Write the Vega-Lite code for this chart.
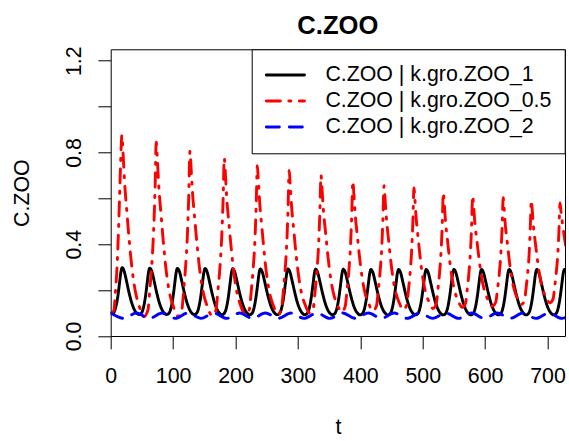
{
"$schema": "https://vega.github.io/schema/vega-lite/v6.json",
"width": 454.3,
"height": 286.7,
"autosize": {"type": "none"},
"padding": {"left": 110.7, "top": 49.3, "right": 4, "bottom": 105},
"background": "white",
"title": {"text": "C.ZOO", "fontSize": 25.6, "fontWeight": "bold", "font": "Liberation Sans", "color": "black", "anchor": "middle", "frame": "group", "baseline": "alphabetic", "offset": 13, "dy": 27},
"config": {
  "view": {"stroke": "black", "strokeWidth": 1},
  "font": "Liberation Sans",
  "axis": {"grid": false, "domain": false, "tickColor": "black", "tickSize": 12.8, "tickWidth": 1, "labelFont": "Liberation Sans", "labelFontSize": 21.33, "labelColor": "black", "titleFont": "Liberation Sans", "titleFontSize": 21.33, "titleFontWeight": "normal", "titleColor": "black", "labelOverlap": false, "labelFlush": false},
  "legend": {"orient": "top-right", "offset": 0, "padding": 12.7, "strokeColor": "black", "strokeWidth": 1, "fillColor": "white", "cornerRadius": 0, "symbolType": "stroke", "symbolSize": 1452, "symbolStrokeWidth": 2.9, "labelFont": "Liberation Sans", "labelFontSize": 21.33, "labelColor": "black", "labelLimit": 500, "labelOffset": 19, "clipHeight": 26, "rowPadding": 0, "labelBaseline": "middle"}
},
"data": {"values": [
{"s":"ZOO_1","t":0,"v":0.1},{"s":"ZOO_1","t":4,"v":0.1},{"s":"ZOO_1","t":8,"v":0.125},{"s":"ZOO_1","t":11.3,"v":0.17},{"s":"ZOO_1","t":14.3,"v":0.235},{"s":"ZOO_1","t":16.3,"v":0.278},{"s":"ZOO_1","t":18.3,"v":0.298},
{"s":"ZOO_1","t":21.3,"v":0.285},{"s":"ZOO_1","t":25.3,"v":0.24},{"s":"ZOO_1","t":29.3,"v":0.19},{"s":"ZOO_1","t":33.3,"v":0.148},{"s":"ZOO_1","t":37.3,"v":0.118},{"s":"ZOO_1","t":41.3,"v":0.1},{"s":"ZOO_1","t":45.3,"v":0.094},{"s":"ZOO_1","t":49.3,"v":0.1},{"s":"ZOO_1","t":52.6,"v":0.125},{"s":"ZOO_1","t":55.6,"v":0.17},{"s":"ZOO_1","t":58.6,"v":0.235},{"s":"ZOO_1","t":60.6,"v":0.278},{"s":"ZOO_1","t":62.6,"v":0.296},
{"s":"ZOO_1","t":65.6,"v":0.284},{"s":"ZOO_1","t":69.6,"v":0.24},{"s":"ZOO_1","t":73.6,"v":0.19},{"s":"ZOO_1","t":77.6,"v":0.148},{"s":"ZOO_1","t":81.6,"v":0.118},{"s":"ZOO_1","t":85.6,"v":0.1},{"s":"ZOO_1","t":89.6,"v":0.094},{"s":"ZOO_1","t":93.6,"v":0.1},{"s":"ZOO_1","t":96.9,"v":0.125},{"s":"ZOO_1","t":99.9,"v":0.17},{"s":"ZOO_1","t":102.9,"v":0.235},{"s":"ZOO_1","t":104.9,"v":0.277},{"s":"ZOO_1","t":106.9,"v":0.295},
{"s":"ZOO_1","t":109.9,"v":0.283},{"s":"ZOO_1","t":113.9,"v":0.239},{"s":"ZOO_1","t":117.9,"v":0.19},{"s":"ZOO_1","t":121.9,"v":0.148},{"s":"ZOO_1","t":125.9,"v":0.118},{"s":"ZOO_1","t":129.9,"v":0.1},{"s":"ZOO_1","t":133.9,"v":0.094},{"s":"ZOO_1","t":137.9,"v":0.1},{"s":"ZOO_1","t":141.2,"v":0.125},{"s":"ZOO_1","t":144.2,"v":0.17},{"s":"ZOO_1","t":147.2,"v":0.234},{"s":"ZOO_1","t":149.2,"v":0.276},{"s":"ZOO_1","t":151.2,"v":0.294},
{"s":"ZOO_1","t":154.2,"v":0.282},{"s":"ZOO_1","t":158.2,"v":0.238},{"s":"ZOO_1","t":162.2,"v":0.189},{"s":"ZOO_1","t":166.2,"v":0.147},{"s":"ZOO_1","t":170.2,"v":0.117},{"s":"ZOO_1","t":174.2,"v":0.1},{"s":"ZOO_1","t":178.2,"v":0.093},{"s":"ZOO_1","t":182.2,"v":0.1},{"s":"ZOO_1","t":185.5,"v":0.124},{"s":"ZOO_1","t":188.5,"v":0.169},{"s":"ZOO_1","t":191.5,"v":0.233},{"s":"ZOO_1","t":193.5,"v":0.275},{"s":"ZOO_1","t":195.5,"v":0.293},
{"s":"ZOO_1","t":198.5,"v":0.281},{"s":"ZOO_1","t":202.5,"v":0.237},{"s":"ZOO_1","t":206.5,"v":0.188},{"s":"ZOO_1","t":210.5,"v":0.147},{"s":"ZOO_1","t":214.5,"v":0.117},{"s":"ZOO_1","t":218.5,"v":0.1},{"s":"ZOO_1","t":222.5,"v":0.093},{"s":"ZOO_1","t":226.5,"v":0.099},{"s":"ZOO_1","t":229.8,"v":0.124},{"s":"ZOO_1","t":232.8,"v":0.169},{"s":"ZOO_1","t":235.8,"v":0.232},{"s":"ZOO_1","t":237.8,"v":0.274},{"s":"ZOO_1","t":239.8,"v":0.292},
{"s":"ZOO_1","t":242.8,"v":0.28},{"s":"ZOO_1","t":246.8,"v":0.236},{"s":"ZOO_1","t":250.8,"v":0.188},{"s":"ZOO_1","t":254.8,"v":0.147},{"s":"ZOO_1","t":258.8,"v":0.117},{"s":"ZOO_1","t":262.8,"v":0.1},{"s":"ZOO_1","t":266.8,"v":0.093},{"s":"ZOO_1","t":270.8,"v":0.099},{"s":"ZOO_1","t":274.1,"v":0.124},{"s":"ZOO_1","t":277.1,"v":0.168},{"s":"ZOO_1","t":280.1,"v":0.232},{"s":"ZOO_1","t":282.1,"v":0.274},{"s":"ZOO_1","t":284.1,"v":0.292},
{"s":"ZOO_1","t":287.1,"v":0.28},{"s":"ZOO_1","t":291.1,"v":0.236},{"s":"ZOO_1","t":295.1,"v":0.188},{"s":"ZOO_1","t":299.1,"v":0.146},{"s":"ZOO_1","t":303.1,"v":0.117},{"s":"ZOO_1","t":307.1,"v":0.099},{"s":"ZOO_1","t":311.1,"v":0.093},{"s":"ZOO_1","t":315.1,"v":0.099},{"s":"ZOO_1","t":318.4,"v":0.123},{"s":"ZOO_1","t":321.4,"v":0.168},{"s":"ZOO_1","t":324.4,"v":0.231},{"s":"ZOO_1","t":326.4,"v":0.273},{"s":"ZOO_1","t":328.4,"v":0.291},
{"s":"ZOO_1","t":331.4,"v":0.279},{"s":"ZOO_1","t":335.4,"v":0.235},{"s":"ZOO_1","t":339.4,"v":0.187},{"s":"ZOO_1","t":343.4,"v":0.146},{"s":"ZOO_1","t":347.4,"v":0.116},{"s":"ZOO_1","t":351.4,"v":0.099},{"s":"ZOO_1","t":355.4,"v":0.093},{"s":"ZOO_1","t":359.4,"v":0.099},{"s":"ZOO_1","t":362.7,"v":0.123},{"s":"ZOO_1","t":365.7,"v":0.168},{"s":"ZOO_1","t":368.7,"v":0.231},{"s":"ZOO_1","t":370.7,"v":0.273},{"s":"ZOO_1","t":372.7,"v":0.291},
{"s":"ZOO_1","t":375.7,"v":0.279},{"s":"ZOO_1","t":379.7,"v":0.235},{"s":"ZOO_1","t":383.7,"v":0.187},{"s":"ZOO_1","t":387.7,"v":0.146},{"s":"ZOO_1","t":391.7,"v":0.116},{"s":"ZOO_1","t":395.7,"v":0.099},{"s":"ZOO_1","t":399.7,"v":0.092},{"s":"ZOO_1","t":403.7,"v":0.098},{"s":"ZOO_1","t":407,"v":0.123},{"s":"ZOO_1","t":410,"v":0.167},{"s":"ZOO_1","t":413,"v":0.23},{"s":"ZOO_1","t":415,"v":0.272},{"s":"ZOO_1","t":417,"v":0.29},
{"s":"ZOO_1","t":420,"v":0.278},{"s":"ZOO_1","t":424,"v":0.234},{"s":"ZOO_1","t":428,"v":0.186},{"s":"ZOO_1","t":432,"v":0.145},{"s":"ZOO_1","t":436,"v":0.116},{"s":"ZOO_1","t":440,"v":0.099},{"s":"ZOO_1","t":444,"v":0.092},{"s":"ZOO_1","t":448,"v":0.098},{"s":"ZOO_1","t":451.3,"v":0.122},{"s":"ZOO_1","t":454.3,"v":0.167},{"s":"ZOO_1","t":457.3,"v":0.23},{"s":"ZOO_1","t":459.3,"v":0.272},{"s":"ZOO_1","t":461.3,"v":0.29},
{"s":"ZOO_1","t":464.3,"v":0.278},{"s":"ZOO_1","t":468.3,"v":0.234},{"s":"ZOO_1","t":472.3,"v":0.186},{"s":"ZOO_1","t":476.3,"v":0.145},{"s":"ZOO_1","t":480.3,"v":0.116},{"s":"ZOO_1","t":484.3,"v":0.099},{"s":"ZOO_1","t":488.3,"v":0.092},{"s":"ZOO_1","t":492.3,"v":0.098},{"s":"ZOO_1","t":495.6,"v":0.122},{"s":"ZOO_1","t":498.6,"v":0.167},{"s":"ZOO_1","t":501.6,"v":0.23},{"s":"ZOO_1","t":503.6,"v":0.272},{"s":"ZOO_1","t":505.6,"v":0.29},
{"s":"ZOO_1","t":508.6,"v":0.278},{"s":"ZOO_1","t":512.6,"v":0.234},{"s":"ZOO_1","t":516.6,"v":0.186},{"s":"ZOO_1","t":520.6,"v":0.145},{"s":"ZOO_1","t":524.6,"v":0.116},{"s":"ZOO_1","t":528.6,"v":0.099},{"s":"ZOO_1","t":532.6,"v":0.092},{"s":"ZOO_1","t":536.6,"v":0.098},{"s":"ZOO_1","t":539.9,"v":0.122},{"s":"ZOO_1","t":542.9,"v":0.167},{"s":"ZOO_1","t":545.9,"v":0.23},{"s":"ZOO_1","t":547.9,"v":0.272},{"s":"ZOO_1","t":549.9,"v":0.29},
{"s":"ZOO_1","t":552.9,"v":0.278},{"s":"ZOO_1","t":556.9,"v":0.234},{"s":"ZOO_1","t":560.9,"v":0.186},{"s":"ZOO_1","t":564.9,"v":0.145},{"s":"ZOO_1","t":568.9,"v":0.116},{"s":"ZOO_1","t":572.9,"v":0.099},{"s":"ZOO_1","t":576.9,"v":0.092},{"s":"ZOO_1","t":580.9,"v":0.098},{"s":"ZOO_1","t":584.2,"v":0.122},{"s":"ZOO_1","t":587.2,"v":0.167},{"s":"ZOO_1","t":590.2,"v":0.23},{"s":"ZOO_1","t":592.2,"v":0.272},{"s":"ZOO_1","t":594.2,"v":0.29},
{"s":"ZOO_1","t":597.2,"v":0.278},{"s":"ZOO_1","t":601.2,"v":0.234},{"s":"ZOO_1","t":605.2,"v":0.186},{"s":"ZOO_1","t":609.2,"v":0.145},{"s":"ZOO_1","t":613.2,"v":0.116},{"s":"ZOO_1","t":617.2,"v":0.099},{"s":"ZOO_1","t":621.2,"v":0.092},{"s":"ZOO_1","t":625.2,"v":0.098},{"s":"ZOO_1","t":628.5,"v":0.122},{"s":"ZOO_1","t":631.5,"v":0.167},{"s":"ZOO_1","t":634.5,"v":0.23},{"s":"ZOO_1","t":636.5,"v":0.272},{"s":"ZOO_1","t":638.5,"v":0.29},
{"s":"ZOO_1","t":641.5,"v":0.278},{"s":"ZOO_1","t":645.5,"v":0.234},{"s":"ZOO_1","t":649.5,"v":0.186},{"s":"ZOO_1","t":653.5,"v":0.145},{"s":"ZOO_1","t":657.5,"v":0.116},{"s":"ZOO_1","t":661.5,"v":0.099},{"s":"ZOO_1","t":665.5,"v":0.092},{"s":"ZOO_1","t":669.5,"v":0.098},{"s":"ZOO_1","t":672.8,"v":0.122},{"s":"ZOO_1","t":675.8,"v":0.167},{"s":"ZOO_1","t":678.8,"v":0.23},{"s":"ZOO_1","t":680.8,"v":0.272},{"s":"ZOO_1","t":682.8,"v":0.29},
{"s":"ZOO_1","t":685.8,"v":0.278},{"s":"ZOO_1","t":689.8,"v":0.234},{"s":"ZOO_1","t":693.8,"v":0.186},{"s":"ZOO_1","t":697.8,"v":0.145},{"s":"ZOO_1","t":701.8,"v":0.116},{"s":"ZOO_1","t":705.8,"v":0.099},{"s":"ZOO_1","t":709.8,"v":0.092},{"s":"ZOO_1","t":713.8,"v":0.098},{"s":"ZOO_1","t":717.1,"v":0.122},{"s":"ZOO_1","t":720.1,"v":0.167},{"s":"ZOO_1","t":723.1,"v":0.23},{"s":"ZOO_1","t":725.1,"v":0.272},{"s":"ZOO_1","t":727.1,"v":0.29},
{"s":"ZOO_1","t":730.1,"v":0.278},
{"s":"ZOO_0.5","t":0,"v":0.1},{"s":"ZOO_0.5","t":5,"v":0.11},{"s":"ZOO_0.5","t":7.5,"v":0.19},{"s":"ZOO_0.5","t":10.5,"v":0.32},{"s":"ZOO_0.5","t":13,"v":0.5},{"s":"ZOO_0.5","t":15.5,"v":0.72},{"s":"ZOO_0.5","t":18,"v":0.876},
{"s":"ZOO_0.5","t":19.5,"v":0.813},{"s":"ZOO_0.5","t":22.1,"v":0.678},{"s":"ZOO_0.5","t":26.1,"v":0.536},{"s":"ZOO_0.5","t":30.2,"v":0.401},{"s":"ZOO_0.5","t":34.3,"v":0.291},{"s":"ZOO_0.5","t":39.4,"v":0.196},{"s":"ZOO_0.5","t":45.5,"v":0.132},{"s":"ZOO_0.5","t":53.6,"v":0.085},{"s":"ZOO_0.5","t":59.8,"v":0.115},{"s":"ZOO_0.5","t":62.8,"v":0.207},{"s":"ZOO_0.5","t":65.9,"v":0.313},{"s":"ZOO_0.5","t":68.9,"v":0.465},{"s":"ZOO_0.5","t":71,"v":0.632},{"s":"ZOO_0.5","t":73,"v":0.845},
{"s":"ZOO_0.5","t":74.5,"v":0.784},{"s":"ZOO_0.5","t":77,"v":0.655},{"s":"ZOO_0.5","t":81,"v":0.519},{"s":"ZOO_0.5","t":85,"v":0.39},{"s":"ZOO_0.5","t":89,"v":0.283},{"s":"ZOO_0.5","t":94,"v":0.192},{"s":"ZOO_0.5","t":100,"v":0.132},{"s":"ZOO_0.5","t":108,"v":0.086},{"s":"ZOO_0.5","t":114,"v":0.115},{"s":"ZOO_0.5","t":117,"v":0.201},{"s":"ZOO_0.5","t":120,"v":0.302},{"s":"ZOO_0.5","t":123,"v":0.446},{"s":"ZOO_0.5","t":125,"v":0.604},{"s":"ZOO_0.5","t":127,"v":0.805},
{"s":"ZOO_0.5","t":128.5,"v":0.748},{"s":"ZOO_0.5","t":131.1,"v":0.626},{"s":"ZOO_0.5","t":135.1,"v":0.497},{"s":"ZOO_0.5","t":139.2,"v":0.375},{"s":"ZOO_0.5","t":143.3,"v":0.274},{"s":"ZOO_0.5","t":148.4,"v":0.188},{"s":"ZOO_0.5","t":154.5,"v":0.131},{"s":"ZOO_0.5","t":162.6,"v":0.088},{"s":"ZOO_0.5","t":168.8,"v":0.115},{"s":"ZOO_0.5","t":171.8,"v":0.198},{"s":"ZOO_0.5","t":174.9,"v":0.294},{"s":"ZOO_0.5","t":177.9,"v":0.432},{"s":"ZOO_0.5","t":180,"v":0.583},{"s":"ZOO_0.5","t":182,"v":0.775},
{"s":"ZOO_0.5","t":183.5,"v":0.72},{"s":"ZOO_0.5","t":185.9,"v":0.604},{"s":"ZOO_0.5","t":189.8,"v":0.48},{"s":"ZOO_0.5","t":193.8,"v":0.364},{"s":"ZOO_0.5","t":197.7,"v":0.268},{"s":"ZOO_0.5","t":202.6,"v":0.186},{"s":"ZOO_0.5","t":208.5,"v":0.131},{"s":"ZOO_0.5","t":216.3,"v":0.09},{"s":"ZOO_0.5","t":222.2,"v":0.116},{"s":"ZOO_0.5","t":225.2,"v":0.194},{"s":"ZOO_0.5","t":228.1,"v":0.286},{"s":"ZOO_0.5","t":231.1,"v":0.416},{"s":"ZOO_0.5","t":233,"v":0.559},{"s":"ZOO_0.5","t":235,"v":0.742},
{"s":"ZOO_0.5","t":236.4,"v":0.69},{"s":"ZOO_0.5","t":238.8,"v":0.58},{"s":"ZOO_0.5","t":242.6,"v":0.464},{"s":"ZOO_0.5","t":246.3,"v":0.354},{"s":"ZOO_0.5","t":250.1,"v":0.263},{"s":"ZOO_0.5","t":254.8,"v":0.186},{"s":"ZOO_0.5","t":260.5,"v":0.134},{"s":"ZOO_0.5","t":268,"v":0.095},{"s":"ZOO_0.5","t":273.7,"v":0.12},{"s":"ZOO_0.5","t":276.6,"v":0.195},{"s":"ZOO_0.5","t":279.4,"v":0.283},{"s":"ZOO_0.5","t":282.2,"v":0.409},{"s":"ZOO_0.5","t":284.1,"v":0.546},{"s":"ZOO_0.5","t":286,"v":0.722},
{"s":"ZOO_0.5","t":287.4,"v":0.672},{"s":"ZOO_0.5","t":289.8,"v":0.567},{"s":"ZOO_0.5","t":293.6,"v":0.455},{"s":"ZOO_0.5","t":297.3,"v":0.349},{"s":"ZOO_0.5","t":301.1,"v":0.262},{"s":"ZOO_0.5","t":305.8,"v":0.187},{"s":"ZOO_0.5","t":311.5,"v":0.137},{"s":"ZOO_0.5","t":319,"v":0.1},{"s":"ZOO_0.5","t":324.7,"v":0.124},{"s":"ZOO_0.5","t":327.6,"v":0.196},{"s":"ZOO_0.5","t":330.4,"v":0.28},{"s":"ZOO_0.5","t":333.2,"v":0.4},{"s":"ZOO_0.5","t":335.1,"v":0.532},{"s":"ZOO_0.5","t":337,"v":0.7},
{"s":"ZOO_0.5","t":338.4,"v":0.652},{"s":"ZOO_0.5","t":340.8,"v":0.551},{"s":"ZOO_0.5","t":344.6,"v":0.444},{"s":"ZOO_0.5","t":348.3,"v":0.343},{"s":"ZOO_0.5","t":352.1,"v":0.26},{"s":"ZOO_0.5","t":356.8,"v":0.188},{"s":"ZOO_0.5","t":362.5,"v":0.141},{"s":"ZOO_0.5","t":370,"v":0.105},{"s":"ZOO_0.5","t":375.7,"v":0.128},{"s":"ZOO_0.5","t":378.6,"v":0.196},{"s":"ZOO_0.5","t":381.4,"v":0.276},{"s":"ZOO_0.5","t":384.2,"v":0.39},{"s":"ZOO_0.5","t":386.1,"v":0.515},{"s":"ZOO_0.5","t":388,"v":0.675},
{"s":"ZOO_0.5","t":389.4,"v":0.63},{"s":"ZOO_0.5","t":391.7,"v":0.534},{"s":"ZOO_0.5","t":395.4,"v":0.432},{"s":"ZOO_0.5","t":399.1,"v":0.336},{"s":"ZOO_0.5","t":402.8,"v":0.257},{"s":"ZOO_0.5","t":407.4,"v":0.189},{"s":"ZOO_0.5","t":413,"v":0.144},{"s":"ZOO_0.5","t":420.4,"v":0.11},{"s":"ZOO_0.5","t":426,"v":0.132},{"s":"ZOO_0.5","t":428.7,"v":0.197},{"s":"ZOO_0.5","t":431.5,"v":0.274},{"s":"ZOO_0.5","t":434.3,"v":0.383},{"s":"ZOO_0.5","t":436.1,"v":0.502},{"s":"ZOO_0.5","t":438,"v":0.655},
{"s":"ZOO_0.5","t":439.3,"v":0.612},{"s":"ZOO_0.5","t":441.6,"v":0.52},{"s":"ZOO_0.5","t":445.1,"v":0.423},{"s":"ZOO_0.5","t":448.7,"v":0.331},{"s":"ZOO_0.5","t":452.2,"v":0.255},{"s":"ZOO_0.5","t":456.7,"v":0.191},{"s":"ZOO_0.5","t":462,"v":0.147},{"s":"ZOO_0.5","t":469.1,"v":0.115},{"s":"ZOO_0.5","t":474.4,"v":0.136},{"s":"ZOO_0.5","t":477.1,"v":0.2},{"s":"ZOO_0.5","t":479.8,"v":0.274},{"s":"ZOO_0.5","t":482.4,"v":0.38},{"s":"ZOO_0.5","t":484.2,"v":0.497},{"s":"ZOO_0.5","t":486,"v":0.645},
{"s":"ZOO_0.5","t":487.3,"v":0.603},{"s":"ZOO_0.5","t":489.5,"v":0.514},{"s":"ZOO_0.5","t":493,"v":0.419},{"s":"ZOO_0.5","t":496.4,"v":0.33},{"s":"ZOO_0.5","t":499.9,"v":0.257},{"s":"ZOO_0.5","t":504.3,"v":0.194},{"s":"ZOO_0.5","t":509.5,"v":0.152},{"s":"ZOO_0.5","t":516.5,"v":0.12},{"s":"ZOO_0.5","t":521.7,"v":0.14},{"s":"ZOO_0.5","t":524.3,"v":0.201},{"s":"ZOO_0.5","t":526.9,"v":0.272},{"s":"ZOO_0.5","t":529.5,"v":0.373},{"s":"ZOO_0.5","t":531.3,"v":0.484},{"s":"ZOO_0.5","t":533,"v":0.625},
{"s":"ZOO_0.5","t":534.3,"v":0.585},{"s":"ZOO_0.5","t":536.5,"v":0.5},{"s":"ZOO_0.5","t":540,"v":0.41},{"s":"ZOO_0.5","t":543.4,"v":0.325},{"s":"ZOO_0.5","t":546.9,"v":0.255},{"s":"ZOO_0.5","t":551.3,"v":0.195},{"s":"ZOO_0.5","t":556.5,"v":0.155},{"s":"ZOO_0.5","t":563.5,"v":0.125},{"s":"ZOO_0.5","t":568.7,"v":0.144},{"s":"ZOO_0.5","t":571.3,"v":0.203},{"s":"ZOO_0.5","t":573.9,"v":0.271},{"s":"ZOO_0.5","t":576.5,"v":0.369},{"s":"ZOO_0.5","t":578.3,"v":0.476},{"s":"ZOO_0.5","t":580,"v":0.612},
{"s":"ZOO_0.5","t":581.4,"v":0.573},{"s":"ZOO_0.5","t":583.6,"v":0.492},{"s":"ZOO_0.5","t":587.3,"v":0.405},{"s":"ZOO_0.5","t":590.9,"v":0.323},{"s":"ZOO_0.5","t":594.5,"v":0.255},{"s":"ZOO_0.5","t":599,"v":0.197},{"s":"ZOO_0.5","t":604.5,"v":0.159},{"s":"ZOO_0.5","t":611.7,"v":0.13},{"s":"ZOO_0.5","t":617.2,"v":0.149},{"s":"ZOO_0.5","t":619.9,"v":0.206},{"s":"ZOO_0.5","t":622.7,"v":0.272},{"s":"ZOO_0.5","t":625.4,"v":0.367},{"s":"ZOO_0.5","t":627.2,"v":0.471},{"s":"ZOO_0.5","t":629,"v":0.603},
{"s":"ZOO_0.5","t":630.2,"v":0.566},{"s":"ZOO_0.5","t":632.3,"v":0.487},{"s":"ZOO_0.5","t":635.7,"v":0.403},{"s":"ZOO_0.5","t":639,"v":0.324},{"s":"ZOO_0.5","t":642.3,"v":0.259},{"s":"ZOO_0.5","t":646.5,"v":0.203},{"s":"ZOO_0.5","t":651.5,"v":0.166},{"s":"ZOO_0.5","t":658.2,"v":0.138},{"s":"ZOO_0.5","t":663.2,"v":0.156},{"s":"ZOO_0.5","t":665.7,"v":0.211},{"s":"ZOO_0.5","t":668.2,"v":0.274},{"s":"ZOO_0.5","t":670.7,"v":0.365},{"s":"ZOO_0.5","t":672.3,"v":0.465},{"s":"ZOO_0.5","t":674,"v":0.592},
{"s":"ZOO_0.5","t":675.3,"v":0.556},{"s":"ZOO_0.5","t":677.4,"v":0.48},{"s":"ZOO_0.5","t":680.8,"v":0.4},{"s":"ZOO_0.5","t":684.2,"v":0.324},{"s":"ZOO_0.5","t":687.6,"v":0.261},{"s":"ZOO_0.5","t":691.9,"v":0.208},{"s":"ZOO_0.5","t":697,"v":0.172},{"s":"ZOO_0.5","t":703.8,"v":0.145},{"s":"ZOO_0.5","t":708.9,"v":0.162},{"s":"ZOO_0.5","t":711.5,"v":0.215},{"s":"ZOO_0.5","t":714,"v":0.276},{"s":"ZOO_0.5","t":716.6,"v":0.363},{"s":"ZOO_0.5","t":718.3,"v":0.458},{"s":"ZOO_0.5","t":720,"v":0.58},
{"s":"ZOO_0.5","t":721.3,"v":0.55},{"s":"ZOO_0.5","t":723.5,"v":0.5},{"s":"ZOO_0.5","t":726.5,"v":0.44},{"s":"ZOO_0.5","t":730,"v":0.38},
{"s":"ZOO_2","t":0,"v":0.1},{"s":"ZOO_2","t":20.65,"v":0.077},{"s":"ZOO_2","t":41.3,"v":0.1},{"s":"ZOO_2","t":61.95,"v":0.077},{"s":"ZOO_2","t":82.6,"v":0.1},{"s":"ZOO_2","t":103.25,"v":0.077},{"s":"ZOO_2","t":123.9,"v":0.1},{"s":"ZOO_2","t":144.55,"v":0.077},{"s":"ZOO_2","t":165.2,"v":0.1},{"s":"ZOO_2","t":185.85,"v":0.077},{"s":"ZOO_2","t":206.5,"v":0.1},{"s":"ZOO_2","t":227.15,"v":0.077},{"s":"ZOO_2","t":247.8,"v":0.1},{"s":"ZOO_2","t":268.45,"v":0.077},{"s":"ZOO_2","t":289.1,"v":0.1},{"s":"ZOO_2","t":309.75,"v":0.077},{"s":"ZOO_2","t":330.4,"v":0.1},{"s":"ZOO_2","t":351.05,"v":0.077},{"s":"ZOO_2","t":371.7,"v":0.1},{"s":"ZOO_2","t":392.35,"v":0.077},{"s":"ZOO_2","t":413,"v":0.1},{"s":"ZOO_2","t":433.65,"v":0.077},{"s":"ZOO_2","t":454.3,"v":0.1},{"s":"ZOO_2","t":474.95,"v":0.077},{"s":"ZOO_2","t":495.6,"v":0.1},{"s":"ZOO_2","t":516.25,"v":0.077},{"s":"ZOO_2","t":536.9,"v":0.1},{"s":"ZOO_2","t":557.55,"v":0.077},{"s":"ZOO_2","t":578.2,"v":0.1},{"s":"ZOO_2","t":598.85,"v":0.077},{"s":"ZOO_2","t":619.5,"v":0.1},{"s":"ZOO_2","t":640.15,"v":0.077},{"s":"ZOO_2","t":660.8,"v":0.1},{"s":"ZOO_2","t":681.45,"v":0.077},{"s":"ZOO_2","t":702.1,"v":0.1},{"s":"ZOO_2","t":722.75,"v":0.077},{"s":"ZOO_2","t":743.4,"v":0.1}
]},
"mark": {"type": "line", "interpolate": "monotone", "clip": true, "strokeWidth": 2.9, "strokeCap": "round", "strokeJoin": "round"},
"encoding": {
  "x": {"field": "t", "type": "quantitative", "scale": {"domain": [0, 728], "nice": false, "zero": false},
        "axis": {"values": [0,100,200,300,400,500,600,700], "title": "t", "labelBaseline": "alphabetic", "labelAlign": "center", "labelPadding": 33.2, "titleX": 227.15, "titleY": 97.3, "titleBaseline": "alphabetic", "titleAlign": "center"}},
  "y": {"field": "v", "type": "quantitative", "scale": {"domain": [0, 1.25], "nice": false},
        "axis": {"values": [0,0.2,0.4,0.6,0.8,1,1.2], "format": ".1f", "labelExpr": "indexof(['0.0','0.4','0.8','1.2'], datum.label) >= 0 ? datum.label : ''", "title": "C.ZOO", "labelAngle": 270, "labelAlign": "center", "labelBaseline": "alphabetic", "labelPadding": 17.9, "titleAngle": 270, "titleX": -81.9, "titleY": 143.35, "titleAlign": "center", "titleBaseline": "alphabetic"}},
  "color": {"field": "s", "type": "nominal", "scale": {"domain": ["ZOO_1","ZOO_0.5","ZOO_2"], "range": ["#000000","#ff0000","#0000ff"]},
            "legend": {"title": null, "labelExpr": "'C.ZOO | k.gro.' + datum.label", "encode": {"symbols": {"update": {"strokeCap": {"value": "round"}}}}}},
  "strokeDash": {"field": "s", "type": "nominal", "scale": {"domain": ["ZOO_1","ZOO_0.5","ZOO_2"], "range": [[1,0],[14,8.5,2,8.5],[13,10]]},
            "legend": {"title": null, "labelExpr": "'C.ZOO | k.gro.' + datum.label", "encode": {"symbols": {"update": {"strokeCap": {"value": "round"}}}}}}
}
}
